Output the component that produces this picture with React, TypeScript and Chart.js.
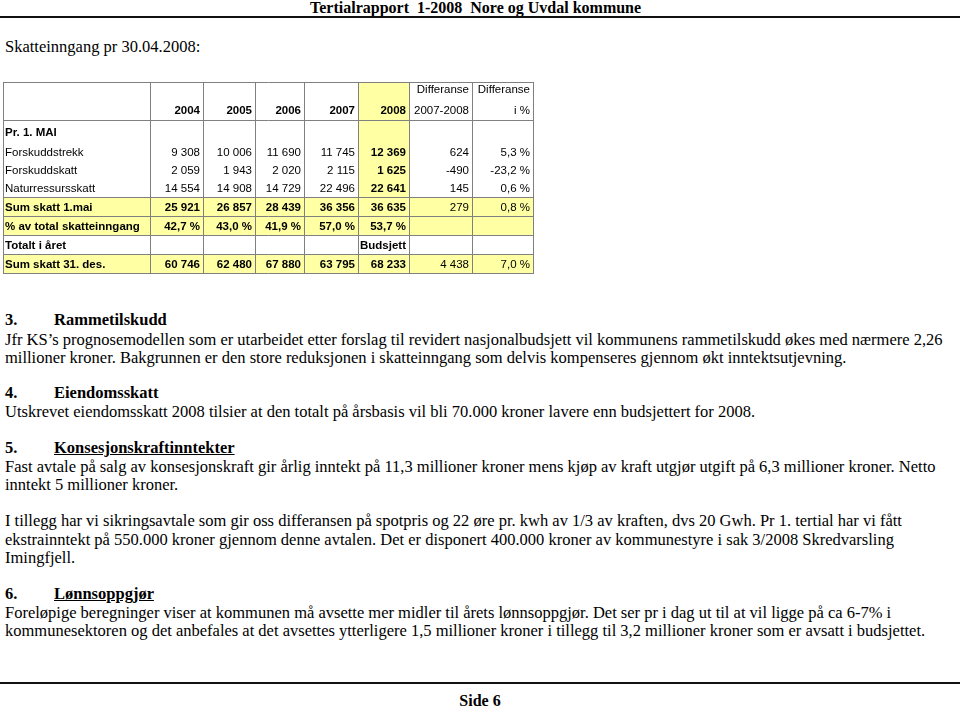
import React, { useEffect, useRef } from 'react';
import { Chart, registerables } from 'chart.js';
Chart.register(...registerables);

// ---------- data ----------
const years = ['2004', '2005', '2006', '2007', '2008'];
const diffHeadTop = ['Differanse', 'Differanse'];
const diffHeadBottom = ['2007-2008', 'i %'];
const rowLabels = [
  'Pr. 1. MAI',
  'Forskuddstrekk',
  'Forskuddskatt',
  'Naturressursskatt',
  'Sum skatt 1.mai',
  '% av total skatteinngang',
  'Totalt i året',
  'Sum skatt 31. des.',
];
const forskuddstrekk = [9308, 10006, 11690, 11745, 12369];
const forskuddskatt = [2059, 1943, 2020, 2115, 1625];
const naturressursskatt = [14554, 14908, 14729, 22496, 22641];
const sumSkatt1Mai = [25921, 26857, 28439, 36356, 36635];
const andelTotal = [42.7, 43.0, 41.9, 57.0, 53.7];
const sumSkatt31Des = [60746, 62480, 67880, 63795, 68233];
const differanseKr = [null, 624, -490, 145, 279, null, null, 4438];
const differanseProsent = [null, 5.3, -23.2, 0.6, 0.8, null, null, 7.0];
const budsjettLabel = 'Budsjett';

// ---------- layout / style config ----------
const colEdges = [0, 147, 200, 252, 301, 355, 406, 469, 530];
// row edges in px offset from table top: header, then 8 body rows
const rowEdges = [0, 38, 61, 79, 97, 115, 134, 153, 172, 191];
const headerLineY = [8, 29];
const YELLOW = '#FFFFA4';
const GRID = '#808080';
const SANS = '"Liberation Sans", Arial, sans-serif';
const SERIF = '"Liberation Serif", "Times New Roman", serif';
const TFS = '11.5px ';

const fmtInt = (n: number) => {
  const s = String(Math.abs(n)).replace(/\B(?=(\d{3})+(?!\d))/g, ' ');
  return (n < 0 ? '-' : '') + s;
};
const fmtPct = (n: number) => n.toFixed(1).replace('.', ',') + ' %';

type Row = {
  label: string;
  labelBold: boolean;
  cells: (string | null)[];
  bold: boolean[];
  fill: 'none' | 'col2008' | 'all';
};

function buildRows(): Row[] {
  const dataRows = [null, forskuddstrekk, forskuddskatt, naturressursskatt, sumSkatt1Mai];
  const rows: Row[] = [];
  rowLabels.forEach((label, i) => {
    let cells: (string | null)[] = [null, null, null, null, null, null, null];
    let bold = [false, false, false, false, true, false, false];
    let labelBold = false;
    let fill: Row['fill'] = 'col2008';
    if (i === 0) {
      labelBold = true;
    } else if (i >= 1 && i <= 4) {
      const arr = dataRows[i] as number[];
      cells = arr.map(fmtInt).concat([
        differanseKr[i] != null ? fmtInt(differanseKr[i] as number) : null,
        differanseProsent[i] != null ? fmtPct(differanseProsent[i] as number) : null,
      ]);
      if (i === 4) {
        labelBold = true;
        bold = [true, true, true, true, true, false, false];
        fill = 'all';
      }
    } else if (i === 5) {
      labelBold = true;
      cells = andelTotal.map(fmtPct).concat([null, null]);
      bold = [true, true, true, true, true, true, true];
      fill = 'all';
    } else if (i === 6) {
      labelBold = true;
      cells = [null, null, null, null, budsjettLabel, null, null];
      bold = [true, true, true, true, true, true, true];
      fill = 'none';
    } else if (i === 7) {
      labelBold = true;
      cells = sumSkatt31Des.map(fmtInt).concat([
        fmtInt(differanseKr[i] as number),
        fmtPct(differanseProsent[i] as number),
      ]);
      bold = [true, true, true, true, true, false, false];
      fill = 'all';
    }
    rows.push({ label, labelBold, cells, bold, fill });
  });
  return rows;
}

const tablePlugin = {
  id: 'tableCells',
  afterDraw(chart: any) {
    const ctx = chart.ctx as CanvasRenderingContext2D;
    const xs = chart.scales.x;
    const ys = chart.scales.y;
    const X = (v: number) => xs.getPixelForValue(v);
    const Y = (v: number) => ys.getPixelForValue(v);
    const rows = buildRows();
    const top = rowEdges[0];
    const bottom = rowEdges[rowEdges.length - 1];
    ctx.save();
    ctx.fillStyle = YELLOW;
    const fillCell = (c0: number, c1: number, r0: number, r1: number) =>
      ctx.fillRect(X(colEdges[c0]), Y(rowEdges[r0]), X(colEdges[c1]) - X(colEdges[c0]), Y(rowEdges[r1]) - Y(rowEdges[r0]));
    fillCell(5, 6, 0, 1);
    rows.forEach((r, i) => {
      if (r.fill === 'col2008') fillCell(5, 6, i + 1, i + 2);
      else if (r.fill === 'all') fillCell(0, 8, i + 1, i + 2);
    });
    ctx.strokeStyle = GRID;
    ctx.lineWidth = 1;
    const crisp = (p: number) => Math.round(p) + 0.5;
    ctx.beginPath();
    colEdges.forEach((c) => {
      const px = crisp(X(c));
      ctx.moveTo(px, Y(top));
      ctx.lineTo(px, Y(bottom) + 1);
    });
    [0, 1, 5, 6, 7, 8, 9].forEach((ri) => {
      const py = crisp(Y(rowEdges[ri]));
      ctx.moveTo(X(colEdges[0]), py);
      ctx.lineTo(X(colEdges[8]) + 1, py);
    });
    ctx.stroke();
    ctx.fillStyle = '#000';
    ctx.textBaseline = 'middle';
    const pad = 3;
    ctx.textAlign = 'right';
    ctx.font = 'bold ' + TFS + SANS;
    years.forEach((yr, j) => ctx.fillText(yr, X(colEdges[j + 2]) - pad, Y(headerLineY[1])));
    ctx.font = TFS + SANS;
    diffHeadTop.forEach((t, j) => ctx.fillText(t, X(colEdges[j + 7]) - pad, Y(headerLineY[0])));
    diffHeadBottom.forEach((t, j) => ctx.fillText(t, X(colEdges[j + 7]) - pad, Y(headerLineY[1])));
    rows.forEach((r, i) => {
      const cy = Y((rowEdges[i + 1] + rowEdges[i + 2]) / 2) + 1;
      ctx.textAlign = 'left';
      ctx.font = (r.labelBold ? 'bold ' : '') + TFS + SANS;
      ctx.fillText(r.label, X(colEdges[0]) + 2, cy);
      r.cells.forEach((c, j) => {
        if (c == null) return;
        ctx.textAlign = 'right';
        ctx.font = (r.bold[j] ? 'bold ' : '') + TFS + SANS;
        ctx.fillText(c, X(colEdges[j + 2]) - pad, cy);
      });
    });
    ctx.restore();
  },
};

function TableChart() {
  const ref = useRef<HTMLCanvasElement>(null);
  useEffect(() => {
    if (!ref.current) return;
    const chart = new Chart(ref.current, {
      type: 'scatter',
      data: { datasets: [] },
      options: {
        animation: false,
        responsive: false,
        maintainAspectRatio: false,
        layout: { padding: { left: 3, right: 7, top: 2, bottom: 3 } },
        scales: {
          x: { type: 'linear', display: false, min: colEdges[0], max: colEdges[colEdges.length - 1] },
          y: { type: 'linear', display: false, min: rowEdges[0], max: rowEdges[rowEdges.length - 1], reverse: true },
        },
        plugins: { legend: { display: false }, tooltip: { enabled: false } },
      } as any,
      plugins: [tablePlugin],
    });
    return () => chart.destroy();
  }, []);
  return (
    <canvas
      ref={ref}
      width={540}
      height={196}
      style={{ position: 'absolute', left: 0, top: 80, width: 540, height: 196 }}
    />
  );
}

const FS = 16.5;
const Line = ({ y, x = 5, children, bold = false, underline = false }: any) => (
  <div
    style={{
      position: 'absolute',
      left: x,
      top: y - 9,
      lineHeight: '18px',
      fontSize: FS,
      fontFamily: SERIF,
      fontWeight: bold ? 'bold' : 'normal',
      textDecoration: underline ? 'underline' : 'none',
      whiteSpace: 'nowrap',
      color: '#000',
    }}
  >
    {children}
  </div>
);

const Heading = ({ y, num, title, underline }: any) => (
  <>
    <Line y={y} bold>
      {num}
    </Line>
    <Line y={y} x={54} bold underline={underline}>
      {title}
    </Line>
  </>
);

export default function App() {
  return (
    <div
      style={{
        position: 'fixed',
        left: 0,
        top: 0,
        width: 960,
        height: 709,
        background: '#fff',
        overflow: 'hidden',
      }}
    >
      <div
        style={{
          position: 'absolute',
          left: 310,
          top: 1,
          lineHeight: '14px',
          height: 14,
          fontSize: 16,
          fontFamily: SERIF,
          fontWeight: 'bold',
          whiteSpace: 'nowrap',
        }}
      >
        Tertialrapport&nbsp; 1-2008&nbsp; Nore og Uvdal kommune
      </div>
      <div style={{ position: 'absolute', left: 0, top: 16, width: 960, height: 2, background: '#111' }} />
      <Line y={47}>Skatteinngang pr 30.04.2008:</Line>
      <TableChart />
      <Heading y={320} num="3." title="Rammetilskudd" />
      <Line y={340}>
        Jfr KS’s prognosemodellen som er utarbeidet etter forslag til revidert nasjonalbudsjett vil kommunens rammetilskudd økes med nærmere 2,26
      </Line>
      <Line y={358}>
        millioner kroner. Bakgrunnen er den store reduksjonen i skatteinngang som delvis kompenseres gjennom økt inntektsutjevning.
      </Line>
      <Heading y={393} num="4." title="Eiendomsskatt" />
      <Line y={412}>
        Utskrevet eiendomsskatt 2008 tilsier at den totalt på årsbasis vil bli 70.000 kroner lavere enn budsjettert for 2008.
      </Line>
      <Heading y={448} num="5." title="Konsesjonskraftinntekter" underline />
      <Line y={467}>
        Fast avtale på salg av konsesjonskraft gir årlig inntekt på 11,3 millioner kroner mens kjøp av kraft utgjør utgift på 6,3 millioner kroner. Netto
      </Line>
      <Line y={485}>inntekt 5 millioner kroner.</Line>
      <Line y={521}>
        I tillegg har vi sikringsavtale som gir oss differansen på spotpris og 22 øre pr. kwh av 1/3 av kraften, dvs 20 Gwh. Pr 1. tertial har vi fått
      </Line>
      <Line y={540}>
        ekstrainntekt på 550.000 kroner gjennom denne avtalen. Det er disponert 400.000 kroner av kommunestyre i sak 3/2008 Skredvarsling
      </Line>
      <Line y={558}>Imingfjell.</Line>
      <Heading y={594} num="6." title="Lønnsoppgjør" underline />
      <Line y={613}>
        Foreløpige beregninger viser at kommunen må avsette mer midler til årets lønnsoppgjør. Det ser pr i dag ut til at vil ligge på ca 6-7% i
      </Line>
      <Line y={631}>
        kommunesektoren og det anbefales at det avsettes ytterligere 1,5 millioner kroner i tillegg til 3,2 millioner kroner som er avsatt i budsjettet.
      </Line>
      <div style={{ position: 'absolute', left: 0, top: 682, width: 960, height: 2, background: '#111' }} />
      <div
        style={{
          position: 'absolute',
          left: 0,
          width: 960,
          top: 692,
          lineHeight: '18px',
          textAlign: 'center',
          fontFamily: SERIF,
          fontWeight: 'bold',
          fontSize: 16,
        }}
      >
        Side 6
      </div>
    </div>
  );
}
